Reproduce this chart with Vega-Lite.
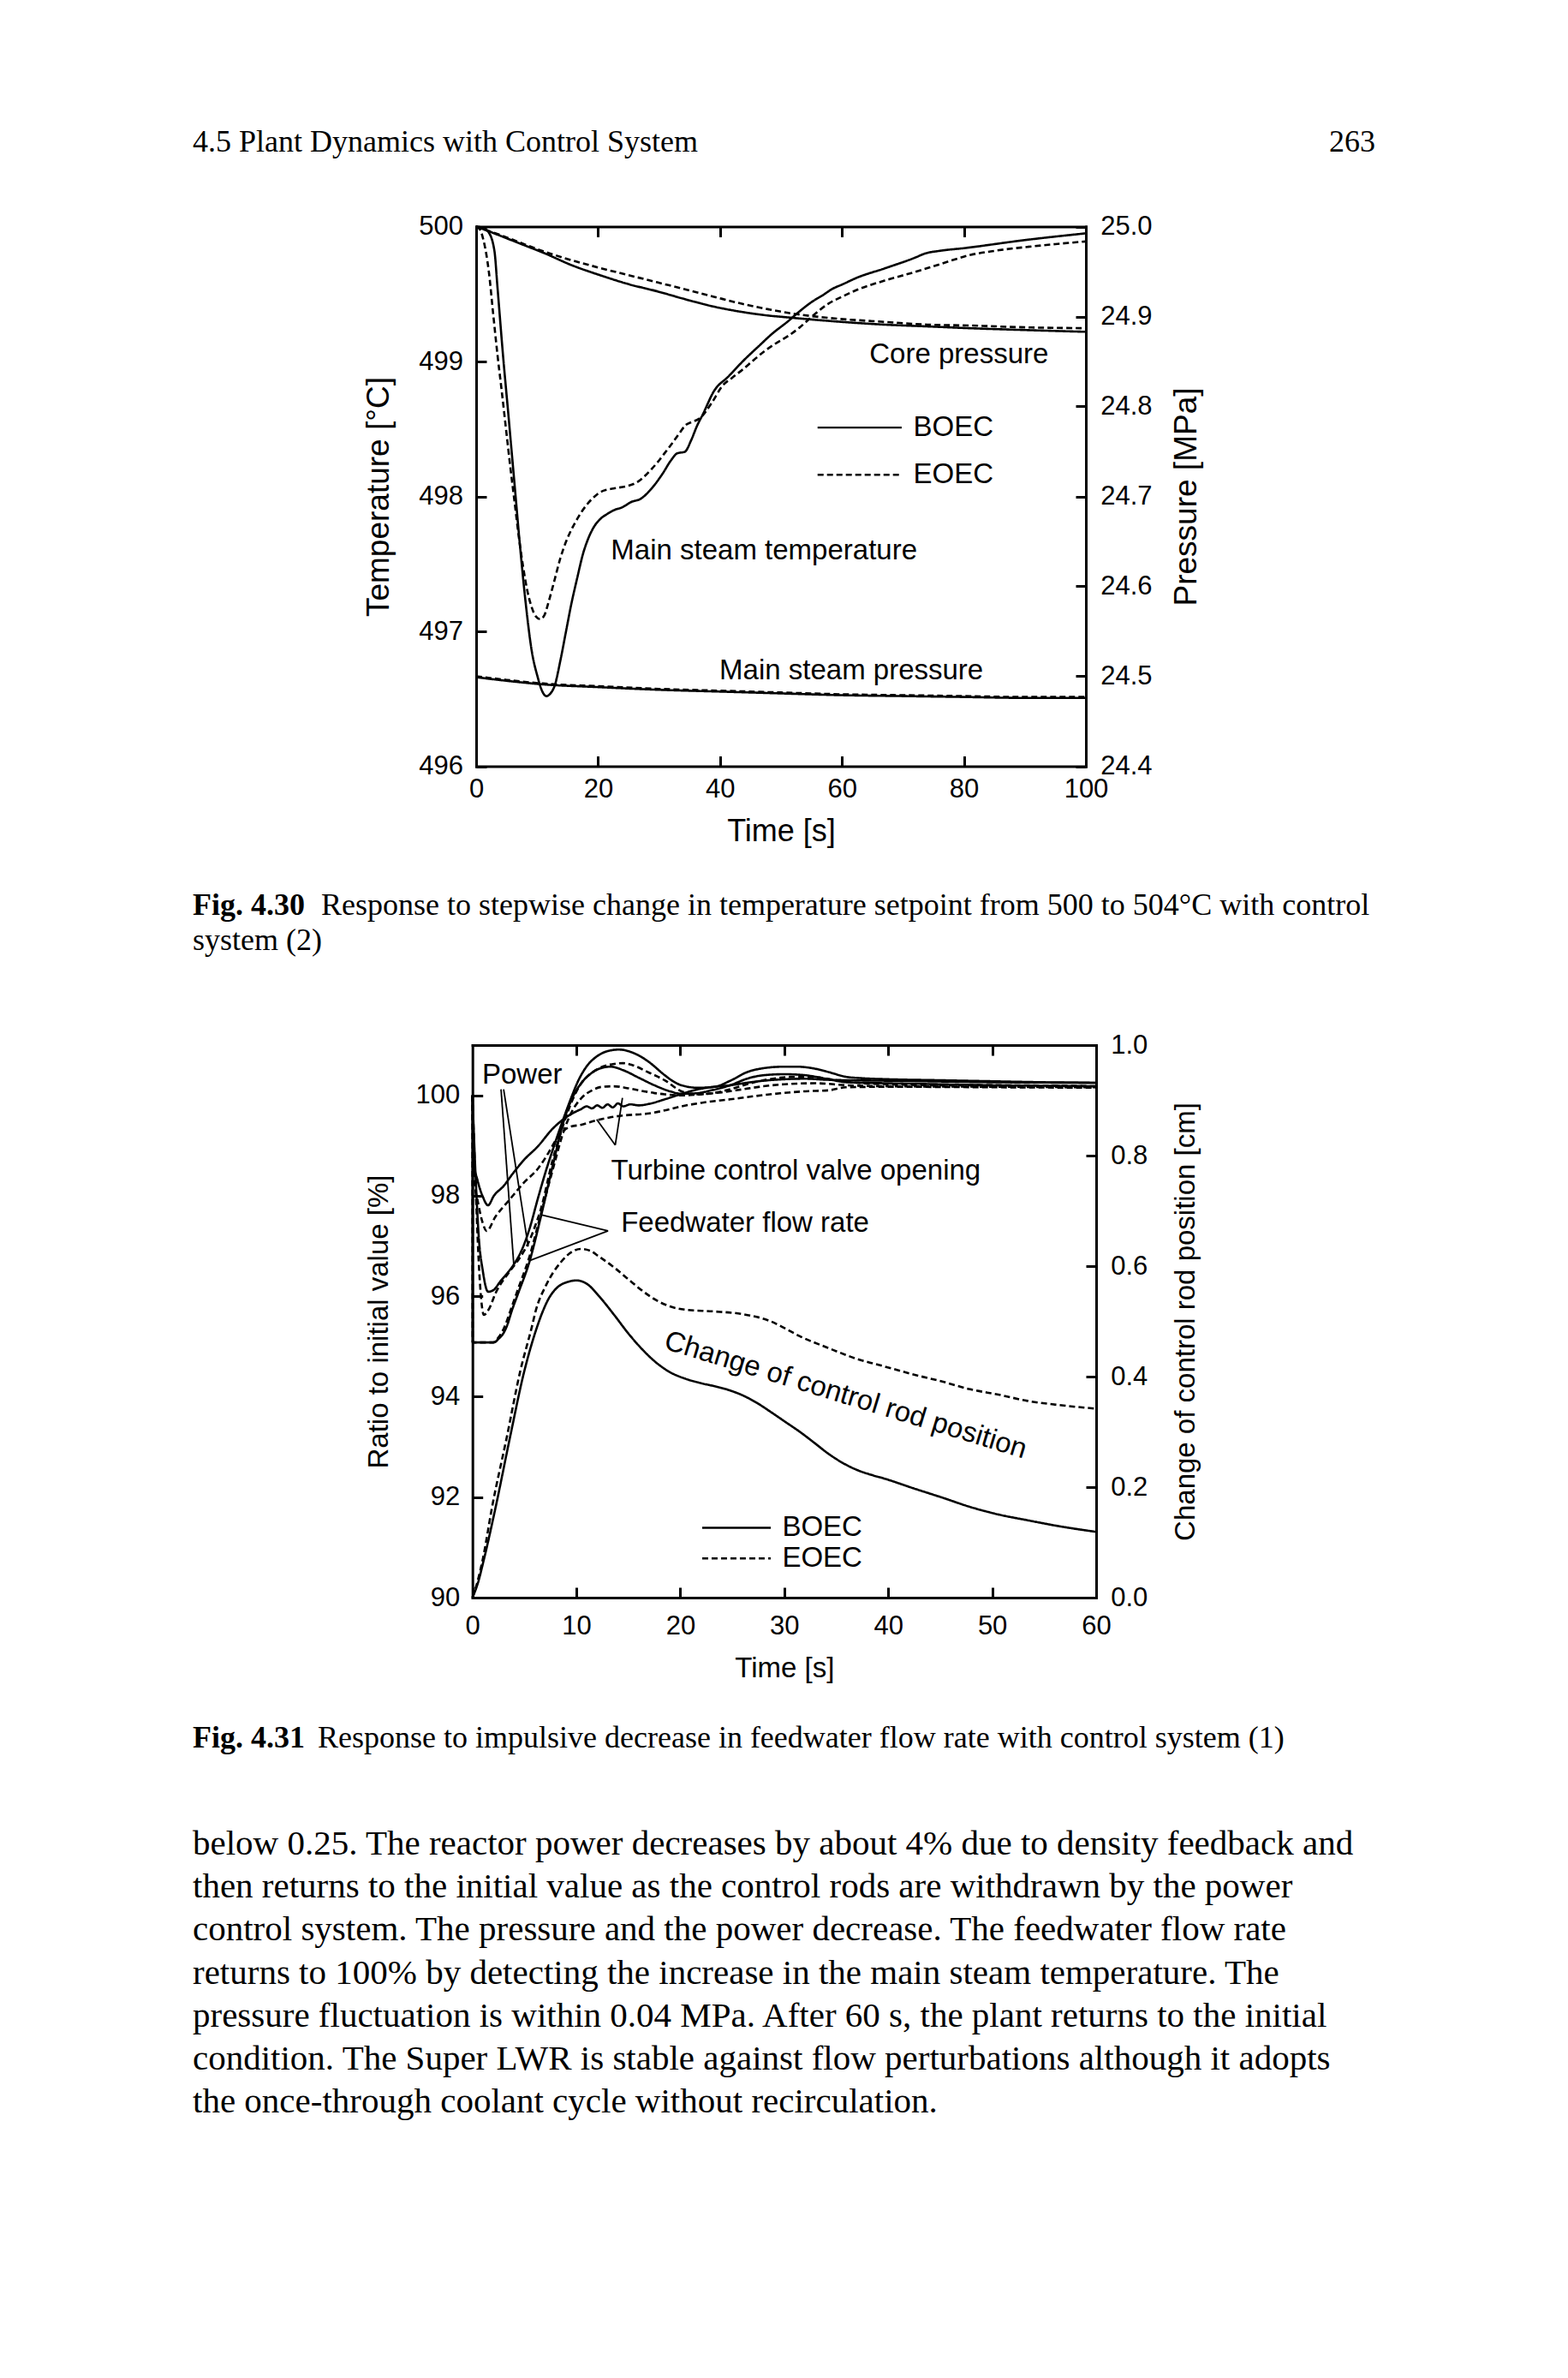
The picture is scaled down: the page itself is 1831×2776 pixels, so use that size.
{
"$schema": "https://vega.github.io/schema/vega-lite/v6.json",
"width": 1831, "height": 2776, "autosize": "none", "padding": 0, "background": "white",
"config": {
  "view": {"stroke": null},
  "font": "Liberation Sans",
  "axis": {"grid": false, "domainColor": "#000", "domainWidth": 3, "domainCap": "square", "tickColor": "#000", "tickWidth": 3, "tickSize": -12, "labelColor": "#000", "titleColor": "#000", "labelFont": "Liberation Sans", "titleFont": "Liberation Sans", "titleFontWeight": "normal", "labelFlush": false, "labelOverlap": false, "labelFontSize": 31}
},
"datasets": {
  "c1temp": [
    {"t":0,"v":500,"s":"BOEC"},{"t":1,"v":499.99,"s":"BOEC"},{"t":2,"v":499.96,"s":"BOEC"},{"t":3,"v":499.82,"s":"BOEC"},{"t":3.5,"v":499.55,"s":"BOEC"},{"t":4.4,"v":499.05,"s":"BOEC"},{"t":5.3,"v":498.6,"s":"BOEC"},{"t":6.3,"v":498.09,"s":"BOEC"},{"t":7.2,"v":497.63,"s":"BOEC"},{"t":8.2,"v":497.18,"s":"BOEC"},{"t":9.1,"v":496.86,"s":"BOEC"},{"t":10.1,"v":496.66,"s":"BOEC"},{"t":10.8,"v":496.56,"s":"BOEC"},{"t":11.5,"v":496.52,"s":"BOEC"},{"t":12.2,"v":496.54,"s":"BOEC"},{"t":12.9,"v":496.6,"s":"BOEC"},{"t":13.8,"v":496.78,"s":"BOEC"},{"t":14.7,"v":496.99,"s":"BOEC"},{"t":15.6,"v":497.2,"s":"BOEC"},{"t":16.6,"v":497.4,"s":"BOEC"},{"t":17.5,"v":497.57,"s":"BOEC"},{"t":18.5,"v":497.7,"s":"BOEC"},{"t":19.4,"v":497.78,"s":"BOEC"},{"t":20.3,"v":497.83,"s":"BOEC"},{"t":21.5,"v":497.87,"s":"BOEC"},{"t":22.7,"v":497.9,"s":"BOEC"},{"t":24,"v":497.92,"s":"BOEC"},{"t":25.5,"v":497.96,"s":"BOEC"},{"t":26.9,"v":497.98,"s":"BOEC"},{"t":28.8,"v":498.06,"s":"BOEC"},{"t":30.6,"v":498.17,"s":"BOEC"},{"t":32,"v":498.27,"s":"BOEC"},{"t":33,"v":498.32,"s":"BOEC"},{"t":34.2,"v":498.33,"s":"BOEC"},{"t":35.3,"v":498.42,"s":"BOEC"},{"t":36.2,"v":498.52,"s":"BOEC"},{"t":37.2,"v":498.61,"s":"BOEC"},{"t":39,"v":498.78,"s":"BOEC"},{"t":41.4,"v":498.89,"s":"BOEC"},{"t":43.7,"v":499.0,"s":"BOEC"},{"t":46.5,"v":499.12,"s":"BOEC"},{"t":48.4,"v":499.2,"s":"BOEC"},{"t":51.2,"v":499.3,"s":"BOEC"},{"t":53,"v":499.37,"s":"BOEC"},{"t":55,"v":499.44,"s":"BOEC"},{"t":56.8,"v":499.49,"s":"BOEC"},{"t":58.5,"v":499.54,"s":"BOEC"},{"t":60,"v":499.57,"s":"BOEC"},{"t":62.4,"v":499.62,"s":"BOEC"},{"t":67,"v":499.69,"s":"BOEC"},{"t":72,"v":499.77,"s":"BOEC"},{"t":73.6,"v":499.8,"s":"BOEC"},{"t":76,"v":499.82,"s":"BOEC"},{"t":80,"v":499.84,"s":"BOEC"},{"t":90,"v":499.9,"s":"BOEC"},{"t":100,"v":499.95,"s":"BOEC"},
    {"t":0,"v":500,"s":"EOEC"},{"t":0.6,"v":499.98,"s":"EOEC"},{"t":1.2,"v":499.9,"s":"EOEC"},{"t":2.1,"v":499.66,"s":"EOEC"},{"t":2.8,"v":499.35,"s":"EOEC"},{"t":3.5,"v":499.05,"s":"EOEC"},{"t":4.2,"v":498.78,"s":"EOEC"},{"t":4.9,"v":498.5,"s":"EOEC"},{"t":5.6,"v":498.22,"s":"EOEC"},{"t":6.3,"v":497.96,"s":"EOEC"},{"t":7,"v":497.7,"s":"EOEC"},{"t":7.7,"v":497.48,"s":"EOEC"},{"t":8.4,"v":497.3,"s":"EOEC"},{"t":9.1,"v":497.18,"s":"EOEC"},{"t":9.8,"v":497.11,"s":"EOEC"},{"t":10.5,"v":497.09,"s":"EOEC"},{"t":11.2,"v":497.12,"s":"EOEC"},{"t":11.9,"v":497.22,"s":"EOEC"},{"t":12.8,"v":497.37,"s":"EOEC"},{"t":13.8,"v":497.54,"s":"EOEC"},{"t":14.7,"v":497.66,"s":"EOEC"},{"t":15.7,"v":497.76,"s":"EOEC"},{"t":16.8,"v":497.85,"s":"EOEC"},{"t":18,"v":497.93,"s":"EOEC"},{"t":19.2,"v":497.99,"s":"EOEC"},{"t":20.3,"v":498.03,"s":"EOEC"},{"t":21.5,"v":498.05,"s":"EOEC"},{"t":22.7,"v":498.06,"s":"EOEC"},{"t":25,"v":498.08,"s":"EOEC"},{"t":26.2,"v":498.1,"s":"EOEC"},{"t":27.4,"v":498.14,"s":"EOEC"},{"t":28.5,"v":498.19,"s":"EOEC"},{"t":29.7,"v":498.25,"s":"EOEC"},{"t":30.9,"v":498.32,"s":"EOEC"},{"t":32.1,"v":498.39,"s":"EOEC"},{"t":33.2,"v":498.46,"s":"EOEC"},{"t":34.4,"v":498.53,"s":"EOEC"},{"t":35.3,"v":498.55,"s":"EOEC"},{"t":36.7,"v":498.58,"s":"EOEC"},{"t":38.6,"v":498.69,"s":"EOEC"},{"t":40.4,"v":498.82,"s":"EOEC"},{"t":42,"v":498.88,"s":"EOEC"},{"t":43.7,"v":498.94,"s":"EOEC"},{"t":45.5,"v":499.01,"s":"EOEC"},{"t":47.4,"v":499.08,"s":"EOEC"},{"t":49,"v":499.13,"s":"EOEC"},{"t":51.2,"v":499.19,"s":"EOEC"},{"t":53,"v":499.25,"s":"EOEC"},{"t":55,"v":499.33,"s":"EOEC"},{"t":57.8,"v":499.43,"s":"EOEC"},{"t":60,"v":499.48,"s":"EOEC"},{"t":62.4,"v":499.53,"s":"EOEC"},{"t":67,"v":499.6,"s":"EOEC"},{"t":71.7,"v":499.66,"s":"EOEC"},{"t":76,"v":499.72,"s":"EOEC"},{"t":81.1,"v":499.79,"s":"EOEC"},{"t":85,"v":499.82,"s":"EOEC"},{"t":90.5,"v":499.85,"s":"EOEC"},{"t":95,"v":499.87,"s":"EOEC"},{"t":100,"v":499.89,"s":"EOEC"}
  ],
  "c1pres": [
    {"t":0,"v":25.0,"s":"BOEC","g":"core"},{"t":2,"v":24.995,"s":"BOEC","g":"core"},{"t":5,"v":24.987,"s":"BOEC","g":"core"},{"t":8,"v":24.979,"s":"BOEC","g":"core"},{"t":11,"v":24.971,"s":"BOEC","g":"core"},{"t":15.7,"v":24.957,"s":"BOEC","g":"core"},{"t":20.3,"v":24.946,"s":"BOEC","g":"core"},{"t":25,"v":24.936,"s":"BOEC","g":"core"},{"t":29.7,"v":24.928,"s":"BOEC","g":"core"},{"t":34.4,"v":24.919,"s":"BOEC","g":"core"},{"t":39,"v":24.911,"s":"BOEC","g":"core"},{"t":43.7,"v":24.905,"s":"BOEC","g":"core"},{"t":48,"v":24.901,"s":"BOEC","g":"core"},{"t":51.2,"v":24.899,"s":"BOEC","g":"core"},{"t":54.5,"v":24.897,"s":"BOEC","g":"core"},{"t":60,"v":24.894,"s":"BOEC","g":"core"},{"t":67,"v":24.891,"s":"BOEC","g":"core"},{"t":74,"v":24.889,"s":"BOEC","g":"core"},{"t":81,"v":24.887,"s":"BOEC","g":"core"},{"t":90,"v":24.885,"s":"BOEC","g":"core"},{"t":100,"v":24.883,"s":"BOEC","g":"core"},
    {"t":0,"v":25.0,"s":"EOEC","g":"core"},{"t":5,"v":24.988,"s":"EOEC","g":"core"},{"t":10,"v":24.975,"s":"EOEC","g":"core"},{"t":14,"v":24.966,"s":"EOEC","g":"core"},{"t":20.3,"v":24.954,"s":"EOEC","g":"core"},{"t":25,"v":24.946,"s":"EOEC","g":"core"},{"t":29.7,"v":24.938,"s":"EOEC","g":"core"},{"t":34.4,"v":24.93,"s":"EOEC","g":"core"},{"t":39,"v":24.922,"s":"EOEC","g":"core"},{"t":43.7,"v":24.914,"s":"EOEC","g":"core"},{"t":48,"v":24.908,"s":"EOEC","g":"core"},{"t":51.2,"v":24.904,"s":"EOEC","g":"core"},{"t":57,"v":24.899,"s":"EOEC","g":"core"},{"t":67,"v":24.894,"s":"EOEC","g":"core"},{"t":74,"v":24.891,"s":"EOEC","g":"core"},{"t":81,"v":24.89,"s":"EOEC","g":"core"},{"t":90,"v":24.888,"s":"EOEC","g":"core"},{"t":100,"v":24.887,"s":"EOEC","g":"core"},
    {"t":0,"v":24.499,"s":"BOEC","g":"msp"},{"t":5,"v":24.495,"s":"BOEC","g":"msp"},{"t":11,"v":24.491,"s":"BOEC","g":"msp"},{"t":20,"v":24.488,"s":"BOEC","g":"msp"},{"t":30,"v":24.485,"s":"BOEC","g":"msp"},{"t":40,"v":24.483,"s":"BOEC","g":"msp"},{"t":50,"v":24.481,"s":"BOEC","g":"msp"},{"t":60,"v":24.479,"s":"BOEC","g":"msp"},{"t":70,"v":24.478,"s":"BOEC","g":"msp"},{"t":80,"v":24.477,"s":"BOEC","g":"msp"},{"t":90,"v":24.476,"s":"BOEC","g":"msp"},{"t":100,"v":24.476,"s":"BOEC","g":"msp"},
    {"t":0,"v":24.5,"s":"EOEC","g":"msp"},{"t":5,"v":24.496,"s":"EOEC","g":"msp"},{"t":11,"v":24.492,"s":"EOEC","g":"msp"},{"t":20,"v":24.489,"s":"EOEC","g":"msp"},{"t":30,"v":24.486,"s":"EOEC","g":"msp"},{"t":40,"v":24.484,"s":"EOEC","g":"msp"},{"t":50,"v":24.482,"s":"EOEC","g":"msp"},{"t":60,"v":24.48,"s":"EOEC","g":"msp"},{"t":70,"v":24.479,"s":"EOEC","g":"msp"},{"t":80,"v":24.478,"s":"EOEC","g":"msp"},{"t":90,"v":24.477,"s":"EOEC","g":"msp"},{"t":100,"v":24.477,"s":"EOEC","g":"msp"}
  ],
  "c2pct": [
    {"t":0,"v":100,"s":"BOEC","g":"power"},{"t":0.3,"v":98.4,"s":"BOEC","g":"power"},{"t":0.6,"v":97.2,"s":"BOEC","g":"power"},{"t":1.0,"v":96.5,"s":"BOEC","g":"power"},{"t":1.5,"v":96.09,"s":"BOEC","g":"power"},{"t":2.0,"v":96.12,"s":"BOEC","g":"power"},{"t":2.7,"v":96.3,"s":"BOEC","g":"power"},{"t":3.4,"v":96.47,"s":"BOEC","g":"power"},{"t":4.0,"v":96.64,"s":"BOEC","g":"power"},{"t":4.7,"v":96.9,"s":"BOEC","g":"power"},{"t":5.5,"v":97.35,"s":"BOEC","g":"power"},{"t":6.3,"v":97.95,"s":"BOEC","g":"power"},{"t":7.0,"v":98.45,"s":"BOEC","g":"power"},{"t":7.7,"v":98.9,"s":"BOEC","g":"power"},{"t":8.8,"v":99.56,"s":"BOEC","g":"power"},{"t":9.5,"v":99.95,"s":"BOEC","g":"power"},{"t":10.2,"v":100.3,"s":"BOEC","g":"power"},{"t":11,"v":100.58,"s":"BOEC","g":"power"},{"t":12,"v":100.78,"s":"BOEC","g":"power"},{"t":13,"v":100.88,"s":"BOEC","g":"power"},{"t":14.1,"v":100.91,"s":"BOEC","g":"power"},{"t":15.4,"v":100.85,"s":"BOEC","g":"power"},{"t":16.2,"v":100.77,"s":"BOEC","g":"power"},{"t":17,"v":100.66,"s":"BOEC","g":"power"},{"t":18.5,"v":100.4,"s":"BOEC","g":"power"},{"t":19.3,"v":100.28,"s":"BOEC","g":"power"},{"t":20.1,"v":100.2,"s":"BOEC","g":"power"},{"t":21.7,"v":100.15,"s":"BOEC","g":"power"},{"t":23.3,"v":100.17,"s":"BOEC","g":"power"},{"t":24.8,"v":100.29,"s":"BOEC","g":"power"},{"t":26.4,"v":100.46,"s":"BOEC","g":"power"},{"t":28,"v":100.54,"s":"BOEC","g":"power"},{"t":30,"v":100.57,"s":"BOEC","g":"power"},{"t":31.2,"v":100.57,"s":"BOEC","g":"power"},{"t":32.7,"v":100.54,"s":"BOEC","g":"power"},{"t":34.3,"v":100.46,"s":"BOEC","g":"power"},{"t":35.9,"v":100.37,"s":"BOEC","g":"power"},{"t":37.5,"v":100.34,"s":"BOEC","g":"power"},{"t":40,"v":100.32,"s":"BOEC","g":"power"},{"t":45,"v":100.3,"s":"BOEC","g":"power"},{"t":50,"v":100.28,"s":"BOEC","g":"power"},{"t":55,"v":100.26,"s":"BOEC","g":"power"},{"t":60,"v":100.25,"s":"BOEC","g":"power"},
    {"t":0,"v":100,"s":"EOEC","g":"power"},{"t":0.3,"v":98.2,"s":"EOEC","g":"power"},{"t":0.7,"v":96.33,"s":"EOEC","g":"power"},{"t":1.1,"v":95.63,"s":"EOEC","g":"power"},{"t":1.6,"v":95.75,"s":"EOEC","g":"power"},{"t":2.2,"v":96.05,"s":"EOEC","g":"power"},{"t":3.6,"v":96.5,"s":"EOEC","g":"power"},{"t":4.5,"v":96.75,"s":"EOEC","g":"power"},{"t":5.4,"v":97.07,"s":"EOEC","g":"power"},{"t":6.0,"v":97.38,"s":"EOEC","g":"power"},{"t":6.6,"v":97.75,"s":"EOEC","g":"power"},{"t":7.7,"v":98.7,"s":"EOEC","g":"power"},{"t":8.8,"v":99.45,"s":"EOEC","g":"power"},{"t":9.5,"v":99.85,"s":"EOEC","g":"power"},{"t":10.5,"v":100.25,"s":"EOEC","g":"power"},{"t":11.5,"v":100.45,"s":"EOEC","g":"power"},{"t":12.5,"v":100.57,"s":"EOEC","g":"power"},{"t":13.5,"v":100.62,"s":"EOEC","g":"power"},{"t":14.5,"v":100.64,"s":"EOEC","g":"power"},{"t":15.4,"v":100.6,"s":"EOEC","g":"power"},{"t":17,"v":100.45,"s":"EOEC","g":"power"},{"t":18.5,"v":100.3,"s":"EOEC","g":"power"},{"t":20.1,"v":100.08,"s":"EOEC","g":"power"},{"t":21.5,"v":100.02,"s":"EOEC","g":"power"},{"t":23,"v":100.04,"s":"EOEC","g":"power"},{"t":24.8,"v":100.12,"s":"EOEC","g":"power"},{"t":26.4,"v":100.22,"s":"EOEC","g":"power"},{"t":28,"v":100.3,"s":"EOEC","g":"power"},{"t":29.6,"v":100.35,"s":"EOEC","g":"power"},{"t":31.2,"v":100.37,"s":"EOEC","g":"power"},{"t":33,"v":100.36,"s":"EOEC","g":"power"},{"t":35,"v":100.3,"s":"EOEC","g":"power"},{"t":37.5,"v":100.24,"s":"EOEC","g":"power"},{"t":40,"v":100.22,"s":"EOEC","g":"power"},{"t":45,"v":100.2,"s":"EOEC","g":"power"},{"t":50,"v":100.2,"s":"EOEC","g":"power"},{"t":60,"v":100.18,"s":"EOEC","g":"power"},
    {"t":0,"v":100,"s":"BOEC","g":"feed"},{"t":0.02,"v":95.08,"s":"BOEC","g":"feed"},{"t":1,"v":95.08,"s":"BOEC","g":"feed"},{"t":2.06,"v":95.08,"s":"BOEC","g":"feed"},{"t":2.5,"v":95.15,"s":"BOEC","g":"feed"},{"t":3.0,"v":95.27,"s":"BOEC","g":"feed"},{"t":3.3,"v":95.4,"s":"BOEC","g":"feed"},{"t":3.8,"v":95.72,"s":"BOEC","g":"feed"},{"t":4.4,"v":96.06,"s":"BOEC","g":"feed"},{"t":5.5,"v":96.7,"s":"BOEC","g":"feed"},{"t":6.6,"v":97.6,"s":"BOEC","g":"feed"},{"t":7.7,"v":98.58,"s":"BOEC","g":"feed"},{"t":8.8,"v":99.5,"s":"BOEC","g":"feed"},{"t":9.5,"v":99.9,"s":"BOEC","g":"feed"},{"t":10.5,"v":100.25,"s":"BOEC","g":"feed"},{"t":11.5,"v":100.45,"s":"BOEC","g":"feed"},{"t":12.5,"v":100.55,"s":"BOEC","g":"feed"},{"t":13.3,"v":100.57,"s":"BOEC","g":"feed"},{"t":14.5,"v":100.5,"s":"BOEC","g":"feed"},{"t":16,"v":100.35,"s":"BOEC","g":"feed"},{"t":17.5,"v":100.2,"s":"BOEC","g":"feed"},{"t":19,"v":100.08,"s":"BOEC","g":"feed"},{"t":20.1,"v":100.03,"s":"BOEC","g":"feed"},{"t":21.5,"v":100.04,"s":"BOEC","g":"feed"},{"t":23,"v":100.1,"s":"BOEC","g":"feed"},{"t":24.8,"v":100.2,"s":"BOEC","g":"feed"},{"t":26.4,"v":100.33,"s":"BOEC","g":"feed"},{"t":28,"v":100.4,"s":"BOEC","g":"feed"},{"t":30,"v":100.42,"s":"BOEC","g":"feed"},{"t":32,"v":100.4,"s":"BOEC","g":"feed"},{"t":34,"v":100.33,"s":"BOEC","g":"feed"},{"t":36,"v":100.26,"s":"BOEC","g":"feed"},{"t":40,"v":100.24,"s":"BOEC","g":"feed"},{"t":45,"v":100.22,"s":"BOEC","g":"feed"},{"t":50,"v":100.2,"s":"BOEC","g":"feed"},{"t":55,"v":100.19,"s":"BOEC","g":"feed"},{"t":60,"v":100.18,"s":"BOEC","g":"feed"},
    {"t":0,"v":100,"s":"EOEC","g":"feed"},{"t":0.02,"v":95.08,"s":"EOEC","g":"feed"},{"t":2.0,"v":95.08,"s":"EOEC","g":"feed"},{"t":2.5,"v":95.18,"s":"EOEC","g":"feed"},{"t":3.0,"v":95.35,"s":"EOEC","g":"feed"},{"t":3.8,"v":95.8,"s":"EOEC","g":"feed"},{"t":4.4,"v":96.15,"s":"EOEC","g":"feed"},{"t":5.5,"v":96.8,"s":"EOEC","g":"feed"},{"t":6.6,"v":97.65,"s":"EOEC","g":"feed"},{"t":7.7,"v":98.5,"s":"EOEC","g":"feed"},{"t":8.8,"v":99.3,"s":"EOEC","g":"feed"},{"t":9.5,"v":99.65,"s":"EOEC","g":"feed"},{"t":10.5,"v":99.95,"s":"EOEC","g":"feed"},{"t":11.5,"v":100.1,"s":"EOEC","g":"feed"},{"t":12.5,"v":100.17,"s":"EOEC","g":"feed"},{"t":13.6,"v":100.18,"s":"EOEC","g":"feed"},{"t":15,"v":100.14,"s":"EOEC","g":"feed"},{"t":16.5,"v":100.08,"s":"EOEC","g":"feed"},{"t":18.5,"v":100.02,"s":"EOEC","g":"feed"},{"t":20.1,"v":100.0,"s":"EOEC","g":"feed"},{"t":22,"v":100.02,"s":"EOEC","g":"feed"},{"t":24,"v":100.06,"s":"EOEC","g":"feed"},{"t":26,"v":100.12,"s":"EOEC","g":"feed"},{"t":28,"v":100.18,"s":"EOEC","g":"feed"},{"t":30,"v":100.22,"s":"EOEC","g":"feed"},{"t":33,"v":100.24,"s":"EOEC","g":"feed"},{"t":36,"v":100.2,"s":"EOEC","g":"feed"},{"t":40,"v":100.18,"s":"EOEC","g":"feed"},{"t":50,"v":100.17,"s":"EOEC","g":"feed"},{"t":60,"v":100.16,"s":"EOEC","g":"feed"},
    {"t":0,"v":100,"s":"BOEC","g":"turb"},{"t":0.1,"v":98.7,"s":"BOEC","g":"turb"},{"t":0.5,"v":98.3,"s":"BOEC","g":"turb"},{"t":1.0,"v":97.98,"s":"BOEC","g":"turb"},{"t":1.5,"v":97.81,"s":"BOEC","g":"turb"},{"t":2.06,"v":98.0,"s":"BOEC","g":"turb"},{"t":3.02,"v":98.2,"s":"BOEC","g":"turb"},{"t":3.84,"v":98.43,"s":"BOEC","g":"turb"},{"t":4.94,"v":98.71,"s":"BOEC","g":"turb"},{"t":6.32,"v":98.99,"s":"BOEC","g":"turb"},{"t":7.69,"v":99.33,"s":"BOEC","g":"turb"},{"t":8.79,"v":99.53,"s":"BOEC","g":"turb"},{"t":9.89,"v":99.67,"s":"BOEC","g":"turb"},{"t":10.4,"v":99.72,"s":"BOEC","g":"turb"},{"t":11,"v":99.78,"s":"BOEC","g":"turb"},{"t":11.5,"v":99.74,"s":"BOEC","g":"turb"},{"t":12,"v":99.8,"s":"BOEC","g":"turb"},{"t":12.5,"v":99.75,"s":"BOEC","g":"turb"},{"t":13,"v":99.82,"s":"BOEC","g":"turb"},{"t":13.5,"v":99.76,"s":"BOEC","g":"turb"},{"t":14,"v":99.84,"s":"BOEC","g":"turb"},{"t":14.5,"v":99.78,"s":"BOEC","g":"turb"},{"t":15.2,"v":99.82,"s":"BOEC","g":"turb"},{"t":16,"v":99.8,"s":"BOEC","g":"turb"},{"t":17,"v":99.83,"s":"BOEC","g":"turb"},{"t":18.5,"v":99.92,"s":"BOEC","g":"turb"},{"t":20,"v":100.02,"s":"BOEC","g":"turb"},{"t":21.7,"v":100.12,"s":"BOEC","g":"turb"},{"t":23.3,"v":100.17,"s":"BOEC","g":"turb"},{"t":24.8,"v":100.2,"s":"BOEC","g":"turb"},{"t":26.4,"v":100.25,"s":"BOEC","g":"turb"},{"t":28,"v":100.29,"s":"BOEC","g":"turb"},{"t":30,"v":100.32,"s":"BOEC","g":"turb"},{"t":32,"v":100.33,"s":"BOEC","g":"turb"},{"t":34,"v":100.31,"s":"BOEC","g":"turb"},{"t":36,"v":100.3,"s":"BOEC","g":"turb"},{"t":40,"v":100.29,"s":"BOEC","g":"turb"},{"t":50,"v":100.26,"s":"BOEC","g":"turb"},{"t":60,"v":100.25,"s":"BOEC","g":"turb"},
    {"t":0,"v":100,"s":"EOEC","g":"turb"},{"t":0.1,"v":98.5,"s":"EOEC","g":"turb"},{"t":0.6,"v":97.8,"s":"EOEC","g":"turb"},{"t":1.0,"v":97.45,"s":"EOEC","g":"turb"},{"t":1.37,"v":97.3,"s":"EOEC","g":"turb"},{"t":2.2,"v":97.58,"s":"EOEC","g":"turb"},{"t":3.56,"v":97.92,"s":"EOEC","g":"turb"},{"t":4.94,"v":98.26,"s":"EOEC","g":"turb"},{"t":6.3,"v":98.54,"s":"EOEC","g":"turb"},{"t":7.3,"v":98.85,"s":"EOEC","g":"turb"},{"t":8.0,"v":99.1,"s":"EOEC","g":"turb"},{"t":8.8,"v":99.3,"s":"EOEC","g":"turb"},{"t":9.5,"v":99.38,"s":"EOEC","g":"turb"},{"t":10.4,"v":99.41,"s":"EOEC","g":"turb"},{"t":11.9,"v":99.5,"s":"EOEC","g":"turb"},{"t":13.2,"v":99.56,"s":"EOEC","g":"turb"},{"t":14.6,"v":99.6,"s":"EOEC","g":"turb"},{"t":17,"v":99.64,"s":"EOEC","g":"turb"},{"t":18.5,"v":99.7,"s":"EOEC","g":"turb"},{"t":20.1,"v":99.78,"s":"EOEC","g":"turb"},{"t":22,"v":99.85,"s":"EOEC","g":"turb"},{"t":24.8,"v":99.92,"s":"EOEC","g":"turb"},{"t":27,"v":99.98,"s":"EOEC","g":"turb"},{"t":29.6,"v":100.04,"s":"EOEC","g":"turb"},{"t":32,"v":100.08,"s":"EOEC","g":"turb"},{"t":34.3,"v":100.1,"s":"EOEC","g":"turb"},{"t":35.9,"v":100.16,"s":"EOEC","g":"turb"},{"t":40,"v":100.17,"s":"EOEC","g":"turb"},{"t":50,"v":100.16,"s":"EOEC","g":"turb"},{"t":60,"v":100.15,"s":"EOEC","g":"turb"}
  ],
  "c2rod": [
    {"t":0,"v":0,"s":"BOEC"},{"t":0.5,"v":0.025,"s":"BOEC"},{"t":1.1,"v":0.069,"s":"BOEC"},{"t":2.2,"v":0.161,"s":"BOEC"},{"t":3.6,"v":0.289,"s":"BOEC"},{"t":4.95,"v":0.407,"s":"BOEC"},{"t":6.2,"v":0.489,"s":"BOEC"},{"t":6.7,"v":0.515,"s":"BOEC"},{"t":7.3,"v":0.54,"s":"BOEC"},{"t":8.2,"v":0.562,"s":"BOEC"},{"t":9.1,"v":0.571,"s":"BOEC"},{"t":10,"v":0.574,"s":"BOEC"},{"t":11,"v":0.568,"s":"BOEC"},{"t":12.2,"v":0.545,"s":"BOEC"},{"t":13.7,"v":0.51,"s":"BOEC"},{"t":15,"v":0.478,"s":"BOEC"},{"t":16.3,"v":0.45,"s":"BOEC"},{"t":17.7,"v":0.425,"s":"BOEC"},{"t":19,"v":0.408,"s":"BOEC"},{"t":20.5,"v":0.396,"s":"BOEC"},{"t":22,"v":0.388,"s":"BOEC"},{"t":23.2,"v":0.383,"s":"BOEC"},{"t":24.6,"v":0.376,"s":"BOEC"},{"t":26,"v":0.366,"s":"BOEC"},{"t":27.4,"v":0.352,"s":"BOEC"},{"t":28.7,"v":0.336,"s":"BOEC"},{"t":30.1,"v":0.318,"s":"BOEC"},{"t":31.5,"v":0.3,"s":"BOEC"},{"t":32.9,"v":0.28,"s":"BOEC"},{"t":34.2,"v":0.261,"s":"BOEC"},{"t":35.6,"v":0.244,"s":"BOEC"},{"t":37,"v":0.231,"s":"BOEC"},{"t":38.4,"v":0.222,"s":"BOEC"},{"t":39.7,"v":0.215,"s":"BOEC"},{"t":42.4,"v":0.198,"s":"BOEC"},{"t":45.2,"v":0.181,"s":"BOEC"},{"t":47.9,"v":0.164,"s":"BOEC"},{"t":50.7,"v":0.15,"s":"BOEC"},{"t":53.4,"v":0.14,"s":"BOEC"},{"t":56.2,"v":0.13,"s":"BOEC"},{"t":60,"v":0.119,"s":"BOEC"},
    {"t":0,"v":0,"s":"EOEC"},{"t":0.5,"v":0.03,"s":"EOEC"},{"t":1.0,"v":0.07,"s":"EOEC"},{"t":1.9,"v":0.165,"s":"EOEC"},{"t":3.3,"v":0.29,"s":"EOEC"},{"t":4.6,"v":0.41,"s":"EOEC"},{"t":5.7,"v":0.489,"s":"EOEC"},{"t":6.1,"v":0.52,"s":"EOEC"},{"t":7.1,"v":0.566,"s":"EOEC"},{"t":8.5,"v":0.607,"s":"EOEC"},{"t":9.5,"v":0.625,"s":"EOEC"},{"t":10.4,"v":0.631,"s":"EOEC"},{"t":11.3,"v":0.628,"s":"EOEC"},{"t":12.2,"v":0.617,"s":"EOEC"},{"t":13.6,"v":0.598,"s":"EOEC"},{"t":15,"v":0.576,"s":"EOEC"},{"t":16.3,"v":0.556,"s":"EOEC"},{"t":17.7,"v":0.538,"s":"EOEC"},{"t":19,"v":0.527,"s":"EOEC"},{"t":20.5,"v":0.521,"s":"EOEC"},{"t":23.2,"v":0.518,"s":"EOEC"},{"t":26,"v":0.513,"s":"EOEC"},{"t":28.7,"v":0.5,"s":"EOEC"},{"t":30.1,"v":0.487,"s":"EOEC"},{"t":31.5,"v":0.473,"s":"EOEC"},{"t":34.2,"v":0.452,"s":"EOEC"},{"t":37,"v":0.432,"s":"EOEC"},{"t":39.7,"v":0.418,"s":"EOEC"},{"t":42.4,"v":0.404,"s":"EOEC"},{"t":45.2,"v":0.391,"s":"EOEC"},{"t":47.9,"v":0.377,"s":"EOEC"},{"t":50.7,"v":0.367,"s":"EOEC"},{"t":53.4,"v":0.356,"s":"EOEC"},{"t":56.2,"v":0.349,"s":"EOEC"},{"t":60,"v":0.342,"s":"EOEC"}
  ]
},
"resolve": {"scale": {"x": "independent", "y": "independent"}, "axis": {"x": "independent", "y": "independent"}},
"layer": [
  {
    "data": {"name": "c1temp"},
    "mark": {"type": "line", "color": "#000", "strokeWidth": 2.6, "interpolate": "monotone"},
    "encoding": {
      "x": {"field": "t", "type": "quantitative", "scale": {"domain": [0, 100], "range": [556, 1268], "nice": false, "zero": false},
            "axis": {"orient": "bottom", "offset": -1881.5, "values": [0, 20, 40, 60, 80, 100], "title": "Time [s]", "labelPadding": 23.5, "titleFontSize": 36, "titlePadding": 17}},
      "y": {"field": "v", "type": "quantitative", "scale": {"domain": [496, 500], "range": [894.5, 264.5], "nice": false, "zero": false},
            "axis": {"orient": "left", "offset": -556, "values": [496, 497, 498, 499, 500], "title": "Temperature [°C]", "labelPadding": 27.5, "titleFontSize": 37, "titlePadding": 27}},
      "strokeDash": {"field": "s", "type": "nominal", "scale": {"domain": ["BOEC", "EOEC"], "range": [[1, 0], [7, 4]]}, "legend": null}
    }
  },
  {
    "data": {"name": "c1pres"},
    "mark": {"type": "line", "color": "#000", "strokeWidth": 2.6, "interpolate": "monotone"},
    "encoding": {
      "x": {"field": "t", "type": "quantitative", "scale": {"domain": [0, 100], "range": [556, 1268], "nice": false, "zero": false},
            "axis": {"orient": "top", "offset": -264.5, "values": [20, 40, 60, 80], "labels": false, "title": null}},
      "y": {"field": "v", "type": "quantitative", "scale": {"domain": [24.4, 25.0], "range": [894.5, 264.5], "nice": false, "zero": false},
            "axis": {"orient": "right", "offset": -563, "values": [24.4, 24.5, 24.6, 24.7, 24.8, 24.9, 25.0], "format": ".1f", "title": "Pressure [MPa]", "labelPadding": 28.7, "titleFontSize": 37, "titlePadding": 22, "titleAngle": 270, "titleBaseline": "top"}},
      "detail": {"field": "g"},
      "strokeDash": {"field": "s", "type": "nominal", "scale": {"domain": ["BOEC", "EOEC"], "range": [[1, 0], [7, 4]]}, "legend": null}
    }
  },
  {
    "data": {"values": [
      {"t": 64.5, "v": 499.05, "text": "Core pressure"},
      {"t": 22.1, "v": 497.6, "text": "Main steam temperature"},
      {"t": 39.9, "v": 496.71, "text": "Main steam pressure"},
      {"t": 71.7, "v": 498.51, "text": "BOEC"},
      {"t": 71.7, "v": 498.16, "text": "EOEC"}
    ]},
    "mark": {"type": "text", "align": "left", "baseline": "middle", "fontSize": 33, "font": "Liberation Sans", "color": "#000"},
    "encoding": {
      "x": {"field": "t", "type": "quantitative", "scale": {"domain": [0, 100], "range": [556, 1268], "nice": false, "zero": false}, "axis": null},
      "y": {"field": "v", "type": "quantitative", "scale": {"domain": [496, 500], "range": [894.5, 264.5], "nice": false, "zero": false}, "axis": null},
      "text": {"field": "text"}
    }
  },
  {
    "data": {"values": [
      {"t": 56, "t2": 69.8, "v": 498.51, "s": "BOEC"},
      {"t": 56, "t2": 69.8, "v": 498.16, "s": "EOEC"}
    ]},
    "mark": {"type": "rule", "color": "#000", "strokeWidth": 2.4},
    "encoding": {
      "x": {"field": "t", "type": "quantitative", "scale": {"domain": [0, 100], "range": [556, 1268], "nice": false, "zero": false}, "axis": null},
      "x2": {"field": "t2"},
      "y": {"field": "v", "type": "quantitative", "scale": {"domain": [496, 500], "range": [894.5, 264.5], "nice": false, "zero": false}, "axis": null},
      "strokeDash": {"field": "s", "type": "nominal", "scale": {"domain": ["BOEC", "EOEC"], "range": [[1, 0], [7, 4]]}, "legend": null}
    }
  },
  {
    "data": {"name": "c2pct"},
    "mark": {"type": "line", "color": "#000", "strokeWidth": 2.6, "interpolate": "monotone"},
    "encoding": {
      "x": {"field": "t", "type": "quantitative", "scale": {"domain": [0, 60], "range": [551.7, 1280], "nice": false, "zero": false},
            "axis": {"orient": "bottom", "offset": -911, "values": [0, 10, 20, 30, 40, 50, 60], "title": "Time [s]", "labelPadding": 30.4, "titleFontSize": 33, "titlePadding": 18}},
      "y": {"field": "v", "type": "quantitative", "scale": {"domain": [90, 101], "range": [1865, 1220], "nice": false, "zero": false},
            "axis": {"orient": "left", "offset": -551.7, "values": [90, 92, 94, 96, 98, 100], "title": "Ratio to initial value [%]", "labelPadding": 27, "titleFontSize": 33, "titlePadding": 25}},
      "detail": {"field": "g"},
      "strokeDash": {"field": "s", "type": "nominal", "scale": {"domain": ["BOEC", "EOEC"], "range": [[1, 0], [7, 4]]}, "legend": null}
    }
  },
  {
    "data": {"name": "c2rod"},
    "mark": {"type": "line", "color": "#000", "strokeWidth": 2.6, "interpolate": "monotone"},
    "encoding": {
      "x": {"field": "t", "type": "quantitative", "scale": {"domain": [0, 60], "range": [551.7, 1280], "nice": false, "zero": false},
            "axis": {"orient": "top", "offset": -1220, "values": [10, 20, 30, 40, 50], "labels": false, "title": null}},
      "y": {"field": "v", "type": "quantitative", "scale": {"domain": [0, 1], "range": [1865, 1220], "nice": false, "zero": false},
            "axis": {"orient": "right", "offset": -551, "values": [0, 0.2, 0.4, 0.6, 0.8, 1.0], "format": ".1f", "title": "Change of control rod position [cm]", "labelPadding": 28.7, "titleFontSize": 33, "titlePadding": 29, "titleAngle": 270, "titleBaseline": "top"}},
      "strokeDash": {"field": "s", "type": "nominal", "scale": {"domain": ["BOEC", "EOEC"], "range": [[1, 0], [7, 4]]}, "legend": null}
    }
  },
  {
    "data": {"values": [
      {"t": 0.93, "v": 100.41, "text": "Power"},
      {"t": 13.33, "v": 98.5, "text": "Turbine control valve opening"},
      {"t": 14.29, "v": 97.45, "text": "Feedwater flow rate"},
      {"t": 29.8, "v": 91.39, "text": "BOEC"},
      {"t": 29.8, "v": 90.78, "text": "EOEC"}
    ]},
    "mark": {"type": "text", "align": "left", "baseline": "middle", "fontSize": 33, "font": "Liberation Sans", "color": "#000"},
    "encoding": {
      "x": {"field": "t", "type": "quantitative", "scale": {"domain": [0, 60], "range": [551.7, 1280], "nice": false, "zero": false}, "axis": null},
      "y": {"field": "v", "type": "quantitative", "scale": {"domain": [90, 101], "range": [1865, 1220], "nice": false, "zero": false}, "axis": null},
      "text": {"field": "text"}
    }
  },
  {
    "data": {"values": [{"t": 35.9, "v": 94.03, "text": "Change of control rod position"}]},
    "mark": {"type": "text", "align": "center", "baseline": "middle", "fontSize": 33, "font": "Liberation Sans", "color": "#000", "angle": 17},
    "encoding": {
      "x": {"field": "t", "type": "quantitative", "scale": {"domain": [0, 60], "range": [551.7, 1280], "nice": false, "zero": false}, "axis": null},
      "y": {"field": "v", "type": "quantitative", "scale": {"domain": [90, 101], "range": [1865, 1220], "nice": false, "zero": false}, "axis": null},
      "text": {"field": "text"}
    }
  },
  {
    "data": {"values": [
      {"t": 2.75, "v": 100.12, "t2": 3.98, "v2": 96.62},
      {"t": 3.0, "v": 100.12, "t2": 5.36, "v2": 96.99},
      {"t": 13.74, "v": 99.01, "t2": 11.95, "v2": 99.52},
      {"t": 13.74, "v": 99.01, "t2": 14.43, "v2": 99.95},
      {"t": 13.05, "v": 97.3, "t2": 6.6, "v2": 97.62},
      {"t": 13.05, "v": 97.3, "t2": 5.49, "v2": 96.71}
    ]},
    "mark": {"type": "rule", "color": "#000", "strokeWidth": 1.8},
    "encoding": {
      "x": {"field": "t", "type": "quantitative", "scale": {"domain": [0, 60], "range": [551.7, 1280], "nice": false, "zero": false}, "axis": null},
      "x2": {"field": "t2"},
      "y": {"field": "v", "type": "quantitative", "scale": {"domain": [90, 101], "range": [1865, 1220], "nice": false, "zero": false}, "axis": null},
      "y2": {"field": "v2"}
    }
  },
  {
    "data": {"values": [
      {"t": 22.1, "t2": 28.7, "v": 91.39, "s": "BOEC"},
      {"t": 22.1, "t2": 28.7, "v": 90.78, "s": "EOEC"}
    ]},
    "mark": {"type": "rule", "color": "#000", "strokeWidth": 2.4},
    "encoding": {
      "x": {"field": "t", "type": "quantitative", "scale": {"domain": [0, 60], "range": [551.7, 1280], "nice": false, "zero": false}, "axis": null},
      "x2": {"field": "t2"},
      "y": {"field": "v", "type": "quantitative", "scale": {"domain": [90, 101], "range": [1865, 1220], "nice": false, "zero": false}, "axis": null},
      "strokeDash": {"field": "s", "type": "nominal", "scale": {"domain": ["BOEC", "EOEC"], "range": [[1, 0], [7, 4]]}, "legend": null}
    }
  },
  {
    "data": {"values": [{"col": 0, "line": 0, "text": "4.5 Plant Dynamics with Control System"}]},
    "mark": {"type": "text", "align": "left", "baseline": "alphabetic", "fontSize": 36, "font": "Liberation Serif", "color": "#000"},
    "encoding": {
      "x": {"field": "col", "type": "quantitative", "scale": {"domain": [0, 1], "range": [225, 1606], "nice": false, "zero": false}, "axis": null},
      "y": {"field": "line", "type": "quantitative", "scale": {"domain": [0, 1], "range": [177, 218], "nice": false, "zero": false}, "axis": null},
      "text": {"field": "text"}
    }
  },
  {
    "data": {"values": [{"col": 1, "line": 0, "text": "263"}]},
    "mark": {"type": "text", "align": "right", "baseline": "alphabetic", "fontSize": 36, "font": "Liberation Serif", "color": "#000"},
    "encoding": {
      "x": {"field": "col", "type": "quantitative", "scale": {"domain": [0, 1], "range": [225, 1606], "nice": false, "zero": false}, "axis": null},
      "y": {"field": "line", "type": "quantitative", "scale": {"domain": [0, 1], "range": [177, 218], "nice": false, "zero": false}, "axis": null},
      "text": {"field": "text"}
    }
  },
  {
    "data": {"values": [{"col": 0, "line": 0, "text": "Fig. 4.30"}]},
    "mark": {"type": "text", "align": "left", "baseline": "alphabetic", "fontSize": 36, "font": "Liberation Serif", "fontWeight": "bold", "color": "#000"},
    "encoding": {
      "x": {"field": "col", "type": "quantitative", "scale": {"domain": [0, 1], "range": [225, 375], "nice": false, "zero": false}, "axis": null},
      "y": {"field": "line", "type": "quantitative", "scale": {"domain": [0, 1], "range": [1068, 1109], "nice": false, "zero": false}, "axis": null},
      "text": {"field": "text"}
    }
  },
  {
    "data": {"values": [
      {"col": 1, "line": 0, "text": "Response to stepwise change in temperature setpoint from 500 to 504°C with control"},
      {"col": 0, "line": 1, "text": "system (2)"}
    ]},
    "mark": {"type": "text", "align": "left", "baseline": "alphabetic", "fontSize": 36, "font": "Liberation Serif", "color": "#000"},
    "encoding": {
      "x": {"field": "col", "type": "quantitative", "scale": {"domain": [0, 1], "range": [225, 375], "nice": false, "zero": false}, "axis": null},
      "y": {"field": "line", "type": "quantitative", "scale": {"domain": [0, 1], "range": [1068, 1109], "nice": false, "zero": false}, "axis": null},
      "text": {"field": "text"}
    }
  },
  {
    "data": {"values": [{"col": 0, "line": 0, "text": "Fig. 4.31"}]},
    "mark": {"type": "text", "align": "left", "baseline": "alphabetic", "fontSize": 36, "font": "Liberation Serif", "fontWeight": "bold", "color": "#000"},
    "encoding": {
      "x": {"field": "col", "type": "quantitative", "scale": {"domain": [0, 1], "range": [225, 371], "nice": false, "zero": false}, "axis": null},
      "y": {"field": "line", "type": "quantitative", "scale": {"domain": [0, 1], "range": [2040, 2081], "nice": false, "zero": false}, "axis": null},
      "text": {"field": "text"}
    }
  },
  {
    "data": {"values": [{"col": 1, "line": 0, "text": "Response to impulsive decrease in feedwater flow rate with control system (1)"}]},
    "mark": {"type": "text", "align": "left", "baseline": "alphabetic", "fontSize": 36, "font": "Liberation Serif", "color": "#000"},
    "encoding": {
      "x": {"field": "col", "type": "quantitative", "scale": {"domain": [0, 1], "range": [225, 371], "nice": false, "zero": false}, "axis": null},
      "y": {"field": "line", "type": "quantitative", "scale": {"domain": [0, 1], "range": [2040, 2081], "nice": false, "zero": false}, "axis": null},
      "text": {"field": "text"}
    }
  },
  {
    "data": {"values": [
      {"col": 0, "line": 0, "text": "below 0.25. The reactor power decreases by about 4% due to density feedback and"},
      {"col": 0, "line": 1, "text": "then returns to the initial value as the control rods are withdrawn by the power"},
      {"col": 0, "line": 2, "text": "control system. The pressure and the power decrease. The feedwater flow rate"},
      {"col": 0, "line": 3, "text": "returns to 100% by detecting the increase in the main steam temperature. The"},
      {"col": 0, "line": 4, "text": "pressure fluctuation is within 0.04 MPa. After 60 s, the plant returns to the initial"},
      {"col": 0, "line": 5, "text": "condition. The Super LWR is stable against flow perturbations although it adopts"},
      {"col": 0, "line": 6, "text": "the once-through coolant cycle without recirculation."}
    ]},
    "mark": {"type": "text", "align": "left", "baseline": "alphabetic", "fontSize": 41, "font": "Liberation Serif", "color": "#000"},
    "encoding": {
      "x": {"field": "col", "type": "quantitative", "scale": {"domain": [0, 1], "range": [225, 1606], "nice": false, "zero": false}, "axis": null},
      "y": {"field": "line", "type": "quantitative", "scale": {"domain": [0, 6], "range": [2165, 2466], "nice": false, "zero": false}, "axis": null},
      "text": {"field": "text"}
    }
  }
]
}
